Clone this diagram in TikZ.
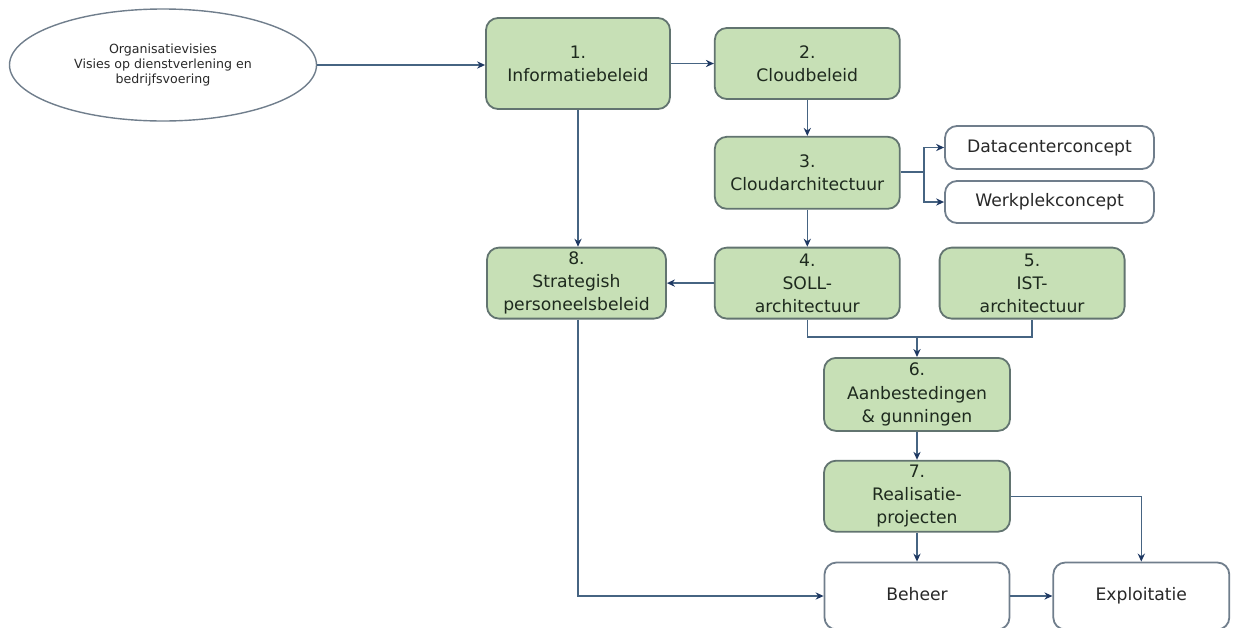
\documentclass[tikz,border=0pt]{standalone}
\usepackage{fontspec}
\setmainfont{DejaVu Sans}
\usepackage{tikz}
\usetikzlibrary{positioning,arrows.meta,shapes.geometric}

\definecolor{boxgreen}{RGB}{199,224,182}
\definecolor{boxline}{RGB}{98,116,112}
\definecolor{plainline}{RGB}{112,126,140}
\definecolor{flowline}{RGB}{70,100,130}
\definecolor{tipblue}{RGB}{30,56,98}
\definecolor{txtgreen}{RGB}{30,42,30}
\definecolor{txtgray}{RGB}{40,40,40}

\begin{document}
\begin{tikzpicture}[x=0.5pt,y=-0.5pt,
		greenbox/.style={draw=boxline,fill=boxgreen,line width=0.9pt,rounded corners=6pt,align=center,text=txtgreen,inner sep=0pt,font=\fontsize{8.6}{11.6}\selectfont,minimum width=92.5pt,minimum height=35.5pt},
		plainbox/.style={draw=plainline,fill=white,line width=0.9pt,rounded corners=6pt,align=center,text=txtgray,inner sep=0pt,text height=6.6pt,text depth=1.7pt,font=\fontsize{8.6}{11.6}\selectfont},
		flow/.style={draw=flowline,line width=0.7pt,-{Stealth[length=4pt,width=3.6pt,color=tipblue]}},
		link/.style={draw=flowline,line width=0.7pt}]
		\useasboundingbox (0,0) rectangle (1236,627);
		
		\node[ellipse,draw=plainline,line width=0.7pt,inner sep=0pt,minimum width=153.5pt,minimum height=56pt,align=center,text=txtgray,font=\fontsize{6.3}{7.6}\selectfont] (visie) at (163,65) {Organisatievisies\\Visies op dienstverlening en\\bedrijfsvoering};
		\node[greenbox,minimum width=92pt,minimum height=45.5pt] (b1) at (578,63.5) {1.\\Informatiebeleid};
		\node[greenbox,right=21.5pt of b1] (b2) {2.\\Cloudbeleid};
		\node[greenbox,minimum height=36pt,below=18pt of b2] (b3) {3.\\Cloudarchitectuur};
		\node[greenbox,below=18.5pt of b3] (b4) {4.\\SOLL-\\architectuur};
		\node[greenbox,minimum width=89.5pt,left=23.5pt of b4] (b8) {8.\\Strategish\\personeelsbeleid};
		\node[greenbox,right=19pt of b4] (b5) {5.\\IST-\\architectuur};
		\node[plainbox,minimum width=104.5pt,minimum height=21.5pt] (dc) at (1049.5,147.5) {Datacenterconcept};
		\node[plainbox,minimum width=104.5pt,minimum height=21pt] (wp) at (1049.5,202) {Werkplekconcept};
		
		\coordinate (fork) at (924,172);
		\coordinate (join) at (917,337);
		
		\node[greenbox,minimum width=93pt,minimum height=36.5pt,below=10pt of join] (b6) {6.\\Aanbestedingen\\\& gunningen};
		\node[greenbox,minimum width=93pt,below=14pt of b6] (b7) {7.\\Realisatie-\\projecten};
		\node[plainbox,minimum width=92.5pt,minimum height=33.5pt,below=14.5pt of b7] (beh) {Beheer};
		\node[plainbox,minimum width=88pt,minimum height=33.5pt,right=21pt of beh] (exp) {Exploitatie};
		
		\draw[flow] (visie.east) -- (visie.east -| b1.west);
		\draw[flow] (b1) -- (b2);
		\draw[flow] (b2) -- (b3);
		\draw[flow] (b3) -- (b4);
		\draw[link] (b3.east |- fork) -- (fork);
		\draw[flow] (fork) |- (dc.west);
		\draw[flow] (fork) |- (wp.west);
		\draw[flow] (b1.south) -- (b1.south |- b8.north);
		\draw[flow] (b4) -- (b8);
		\draw[link] (b4.south) |- (join) -| (b5.south);
		\draw[flow] (join) -- (b6.north);
		\draw[flow] (b6) -- (b7);
		\draw[flow] (b7) -- (beh);
		\draw[flow] (b7.east) -| (exp.north);
		\draw[flow] (b1.south |- b8.south) |- (beh.west);
		\draw[flow] (beh) -- (exp);
	\end{tikzpicture}
\end{document}
